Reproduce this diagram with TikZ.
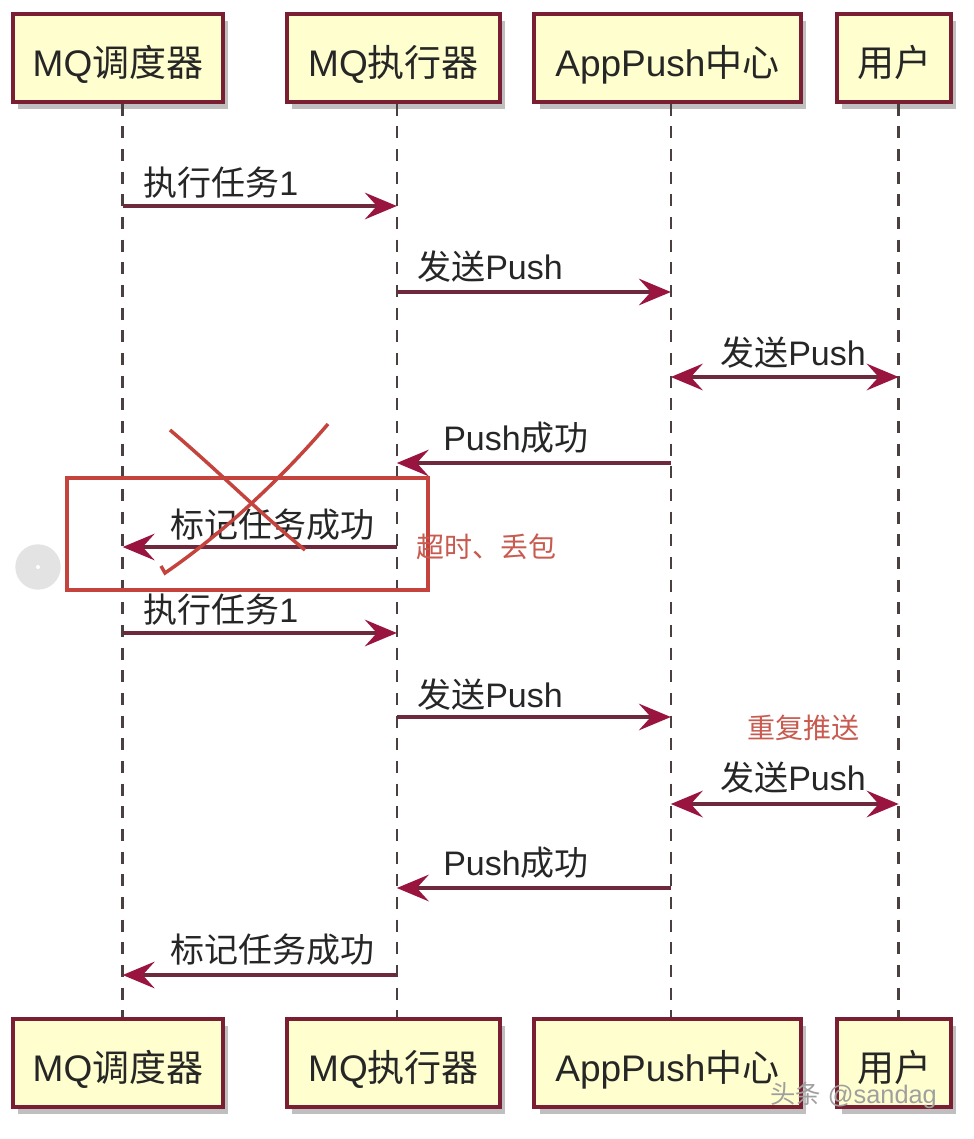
\documentclass[tikz,border=0pt]{standalone}
\usepackage{fontspec}
\setmainfont{Liberation Sans}
\newfontfamily\cjk{Noto Sans CJK SC}
\usetikzlibrary{arrows.meta,shadows}

\definecolor{boxfill}{HTML}{FEFECE}
\definecolor{boxline}{HTML}{7A1F33}
\definecolor{msgline}{HTML}{6E2A3C}
\definecolor{tipred}{HTML}{9A1440}
\definecolor{lifegray}{HTML}{4A4040}
\definecolor{markred}{HTML}{C4433D}
\definecolor{notered}{HTML}{C85A50}

\tikzset{
  actor/.style={draw=boxline, line width=2.6pt, fill=boxfill, minimum height=66pt,
    inner sep=0pt, text height=29pt, text depth=1pt, text=black!85,
    font=\fontsize{27.75}{30}\selectfont,
    drop shadow={shadow xshift=4pt, shadow yshift=-5pt, fill=black, opacity=0.25}},
  life/.style={draw=lifegray, line width=1.8pt, dash pattern=on 9pt off 8pt},
  msg/.style={draw=msgline, line width=2.3pt},
  lbl/.style={inner sep=0pt, anchor=west, text=black!85, font=\fontsize{25.5}{28}\selectfont},
  note/.style={inner sep=0pt, anchor=west, text=notered, font=\cjk\fontsize{21}{24}\selectfont},
  >={Stealth[length=24pt, width=20pt, inset=9pt, color=tipred]}
}

\begin{document}
\begin{tikzpicture}[x=0.75pt, y=-0.75pt]
\fill[white] (0,0) rectangle (974,1139);
\useasboundingbox (0,0) rectangle (974,1139);

% participants, top and bottom
\node[actor, minimum width=157.5pt] (p1) at (118,58) {MQ{\cjk 调度器}};
\node[actor, minimum width=159.75pt] (p2) at (393.5,58) {MQ{\cjk 执行器}};
\node[actor, minimum width=200pt] (p3) at (667.5,58) {AppPush{\cjk 中心}};
\node[actor, minimum width=85.5pt] (p4) at (894,58) {\cjk 用户};
\node[actor, minimum width=157.5pt] (q1) at (118,1063) {MQ{\cjk 调度器}};
\node[actor, minimum width=159.75pt] (q2) at (393.5,1063) {MQ{\cjk 执行器}};
\node[actor, minimum width=200pt] (q3) at (667.5,1063) {AppPush{\cjk 中心}};
\node[actor, minimum width=85.5pt] (q4) at (894,1063) {\cjk 用户};

% lifelines
\coordinate (l1) at ([xshift=3.5pt]p1.south);
\coordinate (l2) at ([xshift=2.5pt]p2.south);
\coordinate (l3) at ([xshift=2.5pt]p3.south);
\coordinate (l4) at ([xshift=3.5pt]p4.south);
\draw[life] (l1) -- (l1 |- q1.north);
\draw[life] (l2) -- (l2 |- q2.north);
\draw[life] (l3) -- (l3 |- q3.north);
\draw[life] (l4) -- (l4 |- q4.north);

% first round
\draw[msg, ->] (l1 |- 0,206) -- (l2 |- 0,206);
\node[lbl] (t1) at (143,183) {{\cjk 执行任务}1};
\draw[msg, ->] (l2 |- 0,292) -- (l3 |- 0,292);
\node[lbl] (t2) at (417,267) {{\cjk 发送}Push};
\draw[msg, <->] (l3 |- 0,377) -- (l4 |- 0,377);
\node[lbl] (t3) at (720,353) {{\cjk 发送}Push};
\draw[msg, ->] (l3 |- 0,463) -- (l2 |- 0,463);
\node[lbl] (t4) at (443,438) {Push{\cjk 成功}};
\draw[msg, ->] (l2 |- 0,547) -- (l1 |- 0,547);
\node[lbl] (t5) at (170,525) {\cjk 标记任务成功};

% lost ack, crossed out
\draw[markred, line width=2.8pt] (67,478) rectangle (428,590);
\draw[markred, line width=2.6pt] (170,430) .. controls (215,468) and (262,515) .. (305,550);
\draw[markred, line width=2.6pt] (328,424) .. controls (282,478) and (222,534) .. (165,573) -- (161,566);
\node[note] (n1) at (416,547) {超时、丢包};
\fill[gray!22] (38,567) circle[radius=17pt];
\fill[white] (38,567) circle[radius=1.5pt];

% second round
\draw[msg, ->] (l1 |- 0,633) -- (l2 |- 0,633);
\node[lbl] (t6) at (143,610) {{\cjk 执行任务}1};
\draw[msg, ->] (l2 |- 0,717) -- (l3 |- 0,717);
\node[lbl] (t7) at (417,695) {{\cjk 发送}Push};
\node[note] (n2) at (747,728) {重复推送};
\draw[msg, <->] (l3 |- 0,804) -- (l4 |- 0,804);
\node[lbl] (t8) at (720,778) {{\cjk 发送}Push};
\draw[msg, ->] (l3 |- 0,888) -- (l2 |- 0,888);
\node[lbl] (t9) at (443,863) {Push{\cjk 成功}};
\draw[msg, ->] (l2 |- 0,975) -- (l1 |- 0,975);
\node[lbl] (t10) at (170,950) {\cjk 标记任务成功};

\node[inner sep=0pt, anchor=west, text=gray!75, font=\fontsize{19}{22}\selectfont] (wm) at (770,1095) {{\cjk 头条} @sandag};
\end{tikzpicture}
\end{document}
